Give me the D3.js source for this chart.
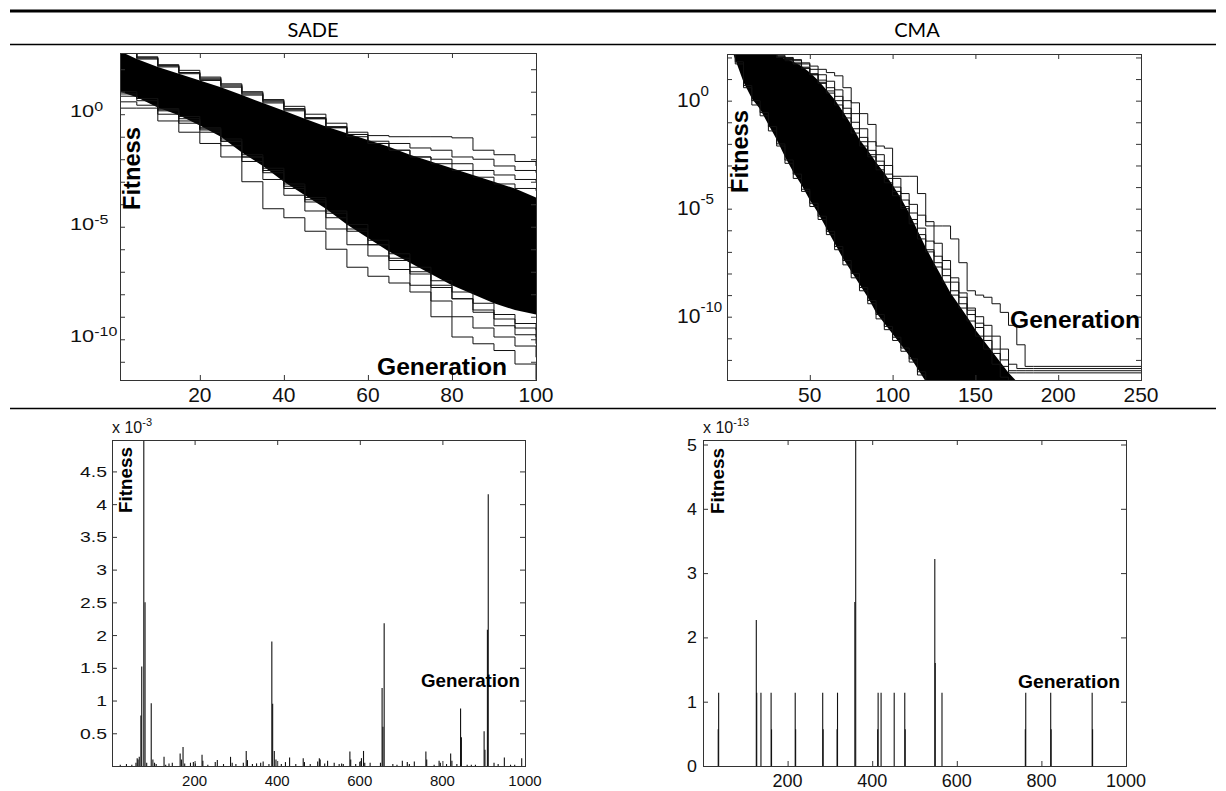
<!DOCTYPE html>
<html>
<head>
<meta charset="utf-8">
<title>SADE vs CMA fitness per generation</title>
<script src="https://d3js.org/d3.v7.min.js"></script>
<style>
  body { margin: 0; background: #fff; }
  svg { display: block; }
  .ticklab { font-family: "Liberation Sans", Arial, sans-serif; fill: #111; }
  .axis-label { font-family: "Liberation Sans", Arial, sans-serif; font-weight: bold; fill: #000; }
  .header { font-family: Lato, "Open Sans", sans-serif; font-size: 20px; fill: #000; }
</style>
</head>
<body>
<svg id="fig" width="1226" height="791"></svg>
<script>
// ---- data ----
var methods = ["SADE", "CMA"];

// top row: log10(fitness) per generation
// SADE: edges of the dense bundle of runs + the stray runs around it
var sadeGens = [1, 5, 10, 15, 20, 25, 30, 35, 40, 45, 50, 55, 60, 65, 70, 75, 80, 85, 90, 95, 100];
var sadeBandTop = [2.8, 2.45, 2.1, 1.8, 1.5, 1.2, 0.85, 0.5, 0.15, -0.2, -0.55, -0.85, -1.15, -1.45, -1.8, -2.1, -2.4, -2.7, -3.0, -3.3, -3.7];
var sadeBandBottom = [1.0, 0.75, 0.3, -0.05, -0.5, -1.0, -1.7, -2.3, -3.0, -3.6, -4.2, -4.9, -5.5, -6.1, -6.6, -7.1, -7.6, -8.0, -8.4, -8.7, -8.9];
var sadeRunA = [0.27, 0.27, -0.3, -0.8, -1.3, -1.9, -3.0, -4.2, -4.6, -5.2, -6.0, -6.8, -7.2, -7.5, -7.9, -9.0, -9.9, -10.2, -10.5, -11.1, -11.8];
var sadeRunB = [0.55, 0.4, 0.0, -0.4, -0.8, -1.4, -2.1, -2.9, -3.6, -4.3, -5.1, -5.8, -6.3, -6.9, -7.6, -8.3, -9.0, -9.5, -9.9, -10.3, -10.8];
var sadeRunC = [0.8, 0.6, 0.15, -0.3, -0.7, -1.2, -1.9, -2.6, -3.3, -3.9, -4.6, -5.2, -5.8, -6.4, -7.0, -7.6, -8.2, -8.8, -9.4, -9.8, -10.2];
var sadeRunD = [0.9, 0.7, 0.2, -0.2, -0.65, -1.2, -1.9, -2.5, -3.1, -3.8, -4.4, -5.1, -5.8, -6.5, -7.1, -7.7, -8.2, -8.7, -9.1, -9.5, -9.9];
var sadeRunE = [1.0, 0.7, 0.25, -0.1, -0.6, -1.1, -1.8, -2.4, -3.2, -3.7, -4.3, -4.9, -5.6, -6.2, -6.8, -7.4, -7.9, -8.4, -8.9, -9.3, -9.6];
var sadeRunU1 = [2.8, 2.55, 2.2, 1.95, 1.65, 1.35, 1.0, 0.65, 0.35, 0.0, -0.4, -0.8, -0.95, -1.0, -1.0, -1.0, -1.05, -1.6, -1.8, -2.1, -2.3];
var sadeRunU2 = [2.8, 2.5, 2.15, 1.85, 1.6, 1.3, 0.95, 0.6, 0.25, -0.15, -0.6, -0.9, -1.2, -1.3, -1.5, -1.6, -1.9, -2.0, -2.3, -2.5, -2.6];
var sadeRunU3 = [2.8, 2.5, 2.15, 1.85, 1.55, 1.25, 0.9, 0.55, 0.2, -0.2, -0.6, -1.0, -1.3, -1.6, -1.9, -2.0, -2.2, -2.5, -2.7, -2.9, -3.0];
var sadeRunU4 = [2.8, 2.45, 2.1, 1.8, 1.5, 1.2, 0.85, 0.5, 0.15, -0.2, -0.55, -0.9, -1.3, -1.6, -1.9, -2.2, -2.5, -2.8, -3.1, -3.3, -3.4];

// CMA
var cmaGens = [0, 5, 10, 15, 20, 25, 30, 35, 40, 45, 50, 55, 60, 65, 70, 75, 80, 85, 90, 95, 100, 105, 110, 115, 120, 125, 130, 135, 140, 145, 150, 155, 160, 165, 170, 175, 180, 185, 250];
var cmaBandTop = [3, 3, 3, 3, 3, 3, 2.05, 1.95, 1.8, 1.6, 1.3, 0.95, 0.5, 0.05, -0.5, -1.1, -1.8, -2.3, -2.85, -3.35, -3.9, -4.5, -5.2, -6.0, -6.8, -7.5, -8.2, -8.9, -9.45, -10.0, -10.6, -11.1, -11.6, -12.1, -12.6, -13.0, -14, -14, -14];
var cmaBandBottom = [3, 1.9, 0.85, 0.1, -0.4, -1.1, -1.8, -2.6, -3.3, -3.9, -4.6, -5.2, -5.9, -6.6, -7.3, -7.9, -8.5, -9.1, -9.8, -10.3, -10.8, -11.3, -11.8, -12.4, -13.0, -14, -14, -14, -14, -14, -14, -14, -14, -14, -14, -14, -14, -14, -14];
var cmaRunO1 = [3, 3, 3, 3, 3, 3, 2.1, 2.0, 1.9, 1.75, 1.6, 1.45, 1.3, 1.15, 0.6, -0.1, -0.6, -1.1, -2.1, -2.2, -3.5, -3.5, -3.5, -4.3, -5.6, -5.8, -5.8, -6.4, -7.5, -8.8, -9.0, -9.1, -9.4, -9.8, -10.4, -11.3, -12.3, -12.3, -12.3];
var cmaRunO2 = [3, 3, 3, 3, 3, 3, 2.05, 1.95, 1.85, 1.7, 1.45, 1.2, 0.9, 0.5, 0.0, -0.6, -1.3, -1.9, -2.5, -3.0, -3.6, -4.3, -4.8, -5.3, -5.8, -6.6, -7.4, -8.2, -8.9, -9.6, -10.0, -10.4, -10.9, -11.5, -12.2, -12.4, -12.4, -12.4, -12.4];
var cmaRunO3 = [3, 3, 3, 3, 3, 3, 2.0, 1.9, 1.75, 1.55, 1.25, 0.95, 0.6, 0.2, -0.35, -1.0, -1.7, -2.3, -2.8, -3.4, -4.0, -4.6, -5.2, -5.9, -6.5, -7.2, -7.8, -8.4, -9.1, -9.7, -10.3, -10.9, -11.5, -12.0, -12.5, -12.5, -12.5, -12.5, -12.5];
var cmaRunO4 = [3, 3, 3, 3, 3, 3, 2.0, 1.85, 1.7, 1.5, 1.2, 0.85, 0.45, 0.0, -0.6, -1.3, -1.9, -2.5, -3.0, -3.6, -4.2, -4.9, -5.5, -6.2, -6.9, -7.5, -8.1, -8.8, -9.4, -9.9, -10.5, -11.1, -11.7, -12.3, -12.6, -12.6, -12.6, -12.6, -12.6];
var cmaRunO5 = [3, 3, 3, 3, 3, 3, 2.0, 1.9, 1.7, 1.5, 1.2, 0.8, 0.35, -0.2, -0.8, -1.5, -2.1, -2.6, -3.2, -3.8, -4.4, -5.0, -5.7, -6.4, -7.0, -7.7, -8.4, -9.0, -9.6, -10.2, -10.9, -11.5, -12.2, -12.8, -14, -14, -14, -14, -14];
var cmaRunL1 = [3, 1.7, 0.6, -0.2, -0.7, -1.4, -2.1, -2.9, -3.6, -4.2, -4.9, -5.5, -6.2, -6.9, -7.6, -8.2, -8.8, -9.4, -10.1, -10.6, -11.1, -11.6, -12.1, -12.7, -13.3, -14, -14, -14, -14, -14, -14, -14, -14, -14, -14, -14, -14, -14, -14];
var cmaRunL2 = [3, 1.8, 0.7, 0.0, -0.55, -1.2, -2.0, -2.75, -3.4, -4.1, -4.75, -5.35, -6.05, -6.75, -7.4, -8.0, -8.65, -9.25, -9.9, -10.45, -10.95, -11.45, -11.95, -12.55, -13.1, -14, -14, -14, -14, -14, -14, -14, -14, -14, -14, -14, -14, -14, -14];

// bottom row: fitness spikes per generation (SADE in 1e-3, CMA in 1e-13)
var sadeSpikeGen = [20, 35, 48, 58, 61, 63, 66, 70, 72, 77, 80, 84, 95, 99, 103, 107, 126, 130, 138, 146, 165, 168, 172, 176, 190, 197, 202, 218, 220, 232, 250, 255, 270, 287, 291, 300, 318, 325, 328, 340, 350, 360, 366, 380, 387, 389, 393, 397, 410, 420, 430, 445, 463, 466, 480, 498, 502, 504, 515, 522, 538, 550, 556, 560, 576, 578, 590, 600, 604, 609, 612, 625, 650, 654, 656, 659, 680, 690, 703, 715, 720, 732, 760, 762, 780, 792, 795, 810, 820, 823, 835, 844, 846, 860, 870, 880, 901, 903, 909, 911, 925, 935, 950, 965, 975, 992];
var sadeSpikeVal = [0.02, 0.03, 0.02, 0.05, 0.12, 0.10, 0.14, 0.77, 1.52, 4.98, 2.50, 0.05, 0.96, 0.10, 0.05, 0.03, 0.14, 0.02, 0.04, 0.05, 0.19, 0.10, 0.29, 0.04, 0.05, 0.06, 0.04, 0.17, 0.08, 0.02, 0.06, 0.09, 0.03, 0.14, 0.05, 0.03, 0.05, 0.23, 0.09, 0.03, 0.04, 0.05, 0.07, 0.03, 1.90, 0.95, 0.23, 0.10, 0.03, 0.06, 0.13, 0.03, 0.12, 0.06, 0.03, 0.07, 0.12, 0.10, 0.04, 0.08, 0.05, 0.03, 0.04, 0.03, 0.22, 0.10, 0.03, 0.06, 0.12, 0.23, 0.05, 0.05, 0.05, 1.19, 0.60, 2.18, 0.03, 0.02, 0.08, 0.06, 0.03, 0.07, 0.22, 0.10, 0.02, 0.08, 0.05, 0.03, 0.19, 0.08, 0.03, 0.88, 0.44, 0.02, 0.02, 0.02, 0.53, 0.25, 2.08, 4.15, 0.05, 0.03, 0.13, 0.02, 0.02, 0.12];
var cmaSpikeGen = [36, 37, 126, 127, 137, 161, 162, 218, 219, 283, 284, 317, 318, 359, 361, 413, 414, 421, 452, 477, 478, 548, 549, 565, 762, 763, 822, 823, 920, 921];
var cmaSpikeVal = [0.57, 1.14, 2.27, 1.14, 1.14, 1.14, 0.57, 1.14, 0.57, 1.14, 0.57, 0.57, 1.14, 2.55, 5.07, 0.57, 1.14, 1.14, 1.14, 1.14, 0.57, 3.22, 1.60, 1.14, 0.57, 1.14, 1.14, 0.57, 1.14, 0.57];

// tick labels
var sadeXTicks = [20, 40, 60, 80, 100];
var cmaXTicks = [50, 100, 150, 200, 250];
var logLabelExps = [0, -5, -10];
var spikeXTicks = [200, 400, 600, 800, 1000];
var sadeSpikeYTicks = [0.5, 1, 1.5, 2, 2.5, 3, 3.5, 4, 4.5];
var cmaSpikeYTicks = [0, 1, 2, 3, 4, 5];

// ---- drawing ----
var svg = d3.select("#fig");

// table rules
svg.append("line").attr("x1", 10).attr("x2", 1216).attr("y1", 11).attr("y2", 11).attr("stroke", "#000").attr("stroke-width", 3);
svg.append("line").attr("x1", 10).attr("x2", 1216).attr("y1", 44.5).attr("y2", 44.5).attr("stroke", "#000").attr("stroke-width", 1.3);
svg.append("line").attr("x1", 10).attr("x2", 1216).attr("y1", 408.5).attr("y2", 408.5).attr("stroke", "#000").attr("stroke-width", 1.3);

svg.selectAll(".header").data(methods).enter().append("text")
  .attr("class", "header")
  .attr("x", function(d, i) { return i === 0 ? 313 : 917; })
  .attr("y", 36.5)
  .attr("text-anchor", "middle")
  .text(function(d) { return d; });

function cleanAxis(sel) {
  sel.select(".domain").remove();
  sel.selectAll(".tick line").attr("stroke", "#333");
}

// box with inward ticks on all four sides
function frame(g, b, x, y, xTicks, yTicks) {
  g.append("g").attr("transform", "translate(0," + b.y1 + ")")
    .call(d3.axisBottom(x).tickValues(xTicks).tickSize(-5).tickFormat("")).call(cleanAxis);
  g.append("g").attr("transform", "translate(0," + b.y0 + ")")
    .call(d3.axisTop(x).tickValues(xTicks).tickSize(-5).tickFormat("")).call(cleanAxis);
  g.append("g").attr("transform", "translate(" + b.x0 + ",0)")
    .call(d3.axisLeft(y).tickValues(yTicks).tickSize(-5).tickFormat("")).call(cleanAxis);
  g.append("g").attr("transform", "translate(" + b.x1 + ",0)")
    .call(d3.axisRight(y).tickValues(yTicks).tickSize(-5).tickFormat("")).call(cleanAxis);
  g.append("rect")
    .attr("x", b.x0 + 0.5).attr("y", b.y0 + 0.5)
    .attr("width", b.x1 - b.x0).attr("height", b.y1 - b.y0)
    .attr("fill", "none").attr("stroke", "#333").attr("stroke-width", 1);
}

function clipFor(g, id, b) {
  g.append("clipPath").attr("id", id).append("rect")
    .attr("x", b.x0).attr("y", b.y0).attr("width", b.x1 - b.x0 + 1).attr("height", b.y1 - b.y0 + 1);
  return g.append("g").attr("clip-path", "url(#" + id + ")");
}

function xLabels(g, x, ticks, yPos, size) {
  g.selectAll(null).data(ticks).enter().append("text")
    .attr("class", "ticklab")
    .attr("x", function(d) { return x(d); })
    .attr("y", yPos)
    .attr("text-anchor", "middle")
    .attr("font-size", size)
    .text(function(d) { return d; });
}

function axisTitle(g, text, px, py, size, len, rotate) {
  g.append("text")
    .attr("class", "axis-label")
    .attr("transform", "translate(" + px + "," + py + ")" + (rotate ? " rotate(-90)" : ""))
    .attr("font-size", size)
    .attr("textLength", len)
    .attr("lengthAdjust", "spacingAndGlyphs")
    .text(text);
}

function logPanel(p) {
  var b = p.box;
  var g = svg.append("g");
  var x = d3.scaleLinear().domain(p.xDomain).range([b.x0, b.x1]);
  var y = d3.scaleLog().domain([Math.pow(10, p.yExp[0]), Math.pow(10, p.yExp[1])]).range([b.y1, b.y0]);
  var ey = function(e) { return y(Math.pow(10, e)); };
  var plot = clipFor(g, p.id, b);

  plot.append("path")
    .datum(p.gens)
    .attr("d", d3.area()
      .x(function(d) { return x(d); })
      .y0(function(d, i) { return ey(p.bandBottom[i]); })
      .y1(function(d, i) { return ey(p.bandTop[i]); }))
    .attr("fill", "#000");

  var line = d3.line()
    .x(function(d, i) { return x(p.gens[i]); })
    .y(function(d) { return ey(d); })
    .curve(d3.curveStepAfter);
  plot.selectAll(".run").data(p.runs).enter().append("path")
    .attr("class", "run")
    .attr("d", line)
    .attr("fill", "none")
    .attr("stroke", "#111")
    .attr("stroke-width", 1);

  var decades = d3.range(Math.ceil(p.yExp[0]), Math.floor(p.yExp[1]) + 1).map(function(e) { return Math.pow(10, e); });
  frame(g, b, x, y, p.xTicks, decades);
  xLabels(g, x, p.xTicks, b.y1 + 21.5, 21);

  var L = p.ylab;
  g.selectAll(null).data(logLabelExps).enter().append("text")
    .attr("class", "ticklab")
    .attr("transform", function(d) { return "translate(" + L.x + "," + (ey(d) + L.dy) + ") scale(" + L.sx + ",1)"; })
    .attr("font-size", L.size)
    .each(function(d) {
      var t = d3.select(this);
      t.append("tspan").text("10");
      t.append("tspan").attr("dy", -L.rise).attr("font-size", L.sup).text(d);
    });

  axisTitle(g, "Fitness", p.fit[0], p.fit[1], p.fit[2], p.fit[3], true);
  axisTitle(g, "Generation", p.gen[0], p.gen[1], p.gen[2], p.gen[3], false);
}

function spikePanel(p) {
  var b = p.box;
  var g = svg.append("g");
  var x = d3.scaleLinear().domain([0, 1000]).range([b.x0, b.x1]);
  var y = d3.scaleLinear().domain([0, p.yMax]).range([b.y1, b.y0]);
  var plot = clipFor(g, p.id, b);

  plot.selectAll("line").data(p.gens).enter().append("line")
    .attr("x1", function(d) { return x(d); })
    .attr("x2", function(d) { return x(d); })
    .attr("y1", y(0))
    .attr("y2", function(d, i) { return y(p.vals[i]); })
    .attr("stroke", "#111")
    .attr("stroke-width", 1.1);

  frame(g, b, x, y, spikeXTicks, p.yTicks);
  xLabels(g, x, spikeXTicks, p.xlabY, p.xlabSize);

  g.selectAll(null).data(p.yTicks).enter().append("text")
    .attr("class", "ticklab")
    .attr("transform", function(d) { return "translate(" + (b.x0 - p.ylabGap) + "," + (y(d) + p.ylabDy) + ") scale(" + p.ylabSx + ",1)"; })
    .attr("text-anchor", "end")
    .attr("font-size", p.ylabSize)
    .text(function(d) { return d; });

  // exponent multiplier above the axis
  var m = g.append("text").attr("class", "ticklab")
    .attr("x", b.x0).attr("y", b.y0 - 7).attr("font-size", 16);
  m.append("tspan").text("x 10");
  m.append("tspan").attr("dy", -7).attr("font-size", 11).text(p.exponent);

  axisTitle(g, "Fitness", p.fit[0], p.fit[1], p.fit[2], p.fit[3], true);
  axisTitle(g, "Generation", p.gen[0], p.gen[1], p.gen[2], p.gen[3], false);
}

logPanel({
  id: "clip-sade-log",
  box: { x0: 120, x1: 536, y0: 53, y1: 380 },
  xDomain: [1, 100], yExp: [-11.81, 2.72],
  gens: sadeGens, bandTop: sadeBandTop, bandBottom: sadeBandBottom,
  runs: [sadeRunA, sadeRunB, sadeRunC, sadeRunD, sadeRunE, sadeRunU1, sadeRunU2, sadeRunU3, sadeRunU4],
  xTicks: sadeXTicks,
  ylab: { x: 70, dy: 3, size: 17, sx: 1.28, sup: 12.5, rise: 6 },
  fit: [140, 210, 23, 83], gen: [377, 374.5, 23, 130]
});

logPanel({
  id: "clip-cma-log",
  box: { x0: 727, x1: 1141, y0: 54, y1: 380 },
  xDomain: [0, 250], yExp: [-12.93, 2.16],
  gens: cmaGens, bandTop: cmaBandTop, bandBottom: cmaBandBottom,
  runs: [cmaRunO1, cmaRunO2, cmaRunO3, cmaRunO4, cmaRunO5, cmaRunL1, cmaRunL2],
  xTicks: cmaXTicks,
  ylab: { x: 677, dy: 6.5, size: 19.5, sx: 1.08, sup: 14, rise: 11 },
  fit: [748, 193, 23, 83], gen: [1010, 328, 23, 130]
});

spikePanel({
  id: "clip-sade-spk",
  box: { x0: 112, x1: 525, y0: 440, y1: 766 },
  yMax: 4.98, gens: sadeSpikeGen, vals: sadeSpikeVal, yTicks: sadeSpikeYTicks,
  xlabY: 786, xlabSize: 15,
  ylabGap: 5, ylabDy: 5.5, ylabSx: 1.25, ylabSize: 15.5,
  exponent: "-3",
  fit: [131.5, 513, 19, 66], gen: [421, 687, 19, 99]
});

spikePanel({
  id: "clip-cma-spk",
  box: { x0: 703, x1: 1126, y0: 440, y1: 766 },
  yMax: 5.07, gens: cmaSpikeGen, vals: cmaSpikeVal, yTicks: cmaSpikeYTicks,
  xlabY: 786.5, xlabSize: 18,
  ylabGap: 6, ylabDy: 6, ylabSx: 1.08, ylabSize: 16.5,
  exponent: "-13",
  fit: [724, 514, 19, 66], gen: [1018, 688, 19, 102]
});
</script>
</body>
</html>
